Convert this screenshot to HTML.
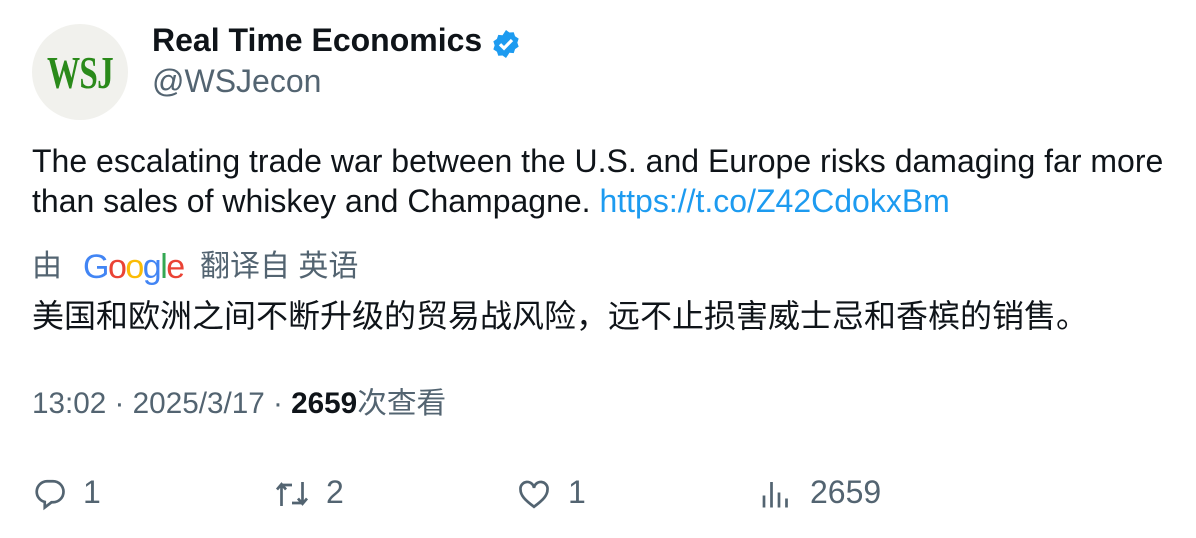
<!DOCTYPE html>
<html><head><meta charset="utf-8"><style>
body{margin:0;width:1196px;height:538px;background:#fff;position:relative;overflow:hidden;font-family:"Liberation Sans","Noto Sans CJK SC",sans-serif;color:#0f1419}
.a{position:absolute;white-space:nowrap;line-height:1}
.g{color:#536471}
</style></head><body>
<div class="a" style="left:32px;top:24px;width:96px;height:96px;border-radius:50%;background:#f1f1ed;"><div class="a" style="left:15px;top:26px;font-family:'Liberation Serif',serif;font-weight:bold;font-size:46px;color:#2a8a1a;transform:scaleX(0.72);transform-origin:left;letter-spacing:-1px">WSJ</div></div>
<div class="a" style="left:152px;top:24px;font-size:32px;font-weight:bold">Real Time Economics</div>
<svg class="a" style="left:490px;top:28px" width="32" height="32" viewBox="0 0 24 24"><path fill="#1d9bf0" d="M12 1.5l2.6 1.9 3.2-.2 1 3 2.7 1.8-1 3 1 3-2.7 1.8-1 3-3.2-.2L12 22.5l-2.6-1.9-3.2.2-1-3-2.7-1.8 1-3-1-3 2.7-1.8 1-3 3.2.2z"/><path d="M7.5 12.2l3 3 6-6.2" stroke="#fff" stroke-width="2.4" fill="none"/></svg>
<div class="a g" style="left:152px;top:65px;font-size:32px">@WSJecon</div>
<div class="a" style="left:32px;top:141px;font-size:32px;line-height:40px">The escalating trade war between the U.S. and Europe risks damaging far more<br>than sales of whiskey and Champagne. <span style="color:#1d9bf0">https://t.co/Z42CdokxBm</span></div>
<div class="a g" style="left:32px;top:252px;font-size:30px">由</div>
<div class="a" style="left:83px;top:250px;font-size:34px;letter-spacing:-1.5px;font-weight:500"><span style="color:#4285f4">G</span><span style="color:#ea4335">o</span><span style="color:#fbbc05">o</span><span style="color:#4285f4">g</span><span style="color:#34a853">l</span><span style="color:#ea4335">e</span></div>
<div class="a g" style="left:200px;top:252px;font-size:30px">翻译自 英语</div>
<div class="a" style="left:32px;top:300px;font-size:32px">美国和欧洲之间不断升级的贸易战风险，远不止损害威士忌和香槟的销售。</div>
<div class="a g" style="left:32px;top:389px;font-size:29.7px">13:02 · 2025/3/17 · <b style="color:#0f1419">2659</b>次查看</div>
<svg class="a" style="left:32px;top:476px" width="36" height="36" viewBox="0 0 24 24"><path d="M10 3.5h4a7 7 0 0 1 0 14h-1l-4.5 3.5v-3.7A7 7 0 0 1 10 3.5z" fill="none" stroke="#536471" stroke-width="1.8"/></svg>
<div class="a g" style="left:83px;top:476px;font-size:32px">1</div>
<svg class="a" style="left:274px;top:476px" width="36" height="36" viewBox="0 0 24 24"><path d="M5 20V6M2 9l3-3.5L8 9M5 6h7M19 4v14M16 15l3 3.5 3-3.5M19 18h-7" fill="none" stroke="#536471" stroke-width="1.8"/></svg>
<div class="a g" style="left:326px;top:476px;font-size:32px">2</div>
<svg class="a" style="left:516px;top:476px" width="36" height="36" viewBox="0 0 24 24"><path d="M12 20.5C6 16 3 13 3 9a4.5 4.5 0 0 1 9-1 4.5 4.5 0 0 1 9 1c0 4-3 7-9 11.5z" fill="none" stroke="#536471" stroke-width="1.8"/></svg>
<div class="a g" style="left:568px;top:476px;font-size:32px">1</div>
<svg class="a" style="left:758px;top:476px" width="36" height="36" viewBox="0 0 24 24"><path d="M4 21v-8M9 21V4M14 21v-10M19 21v-6" stroke="#536471" stroke-width="1.8"/></svg>
<div class="a g" style="left:810px;top:476px;font-size:32px">2659</div>
</body></html>
